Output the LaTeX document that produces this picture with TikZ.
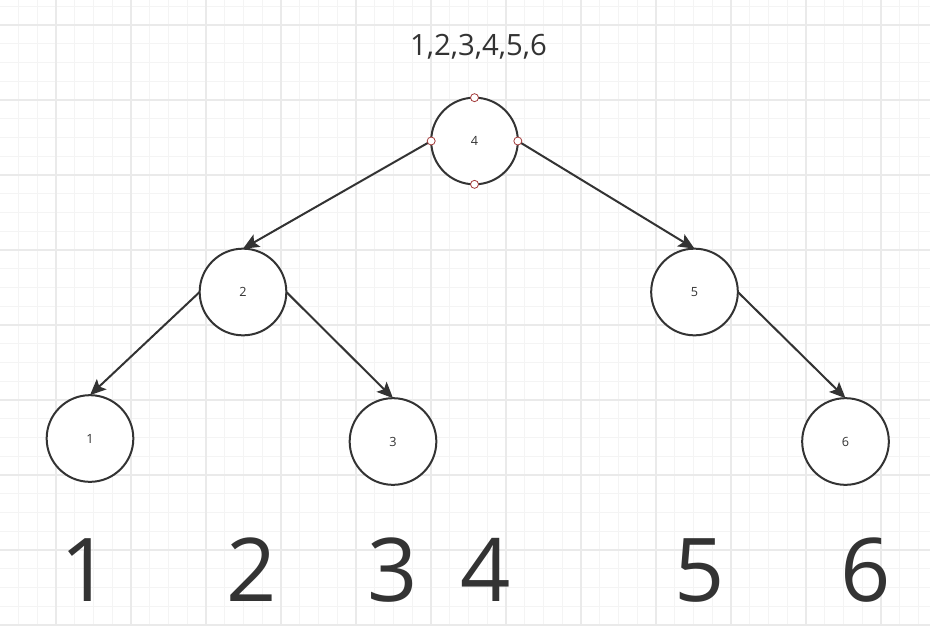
\documentclass[tikz,border=0pt]{standalone}
\usepackage{fontspec}
\setmainfont{Open Sans}
\usetikzlibrary{arrows.meta}
\definecolor{ink}{HTML}{333333}
\definecolor{gridminor}{HTML}{F4F4F4}
\definecolor{gridmajor}{HTML}{EAEAEA}
\definecolor{handlered}{HTML}{A33A3A}
\tikzset{
  treenode/.style={circle, draw=ink, line width=1.5pt, fill=white, minimum size=65pt, inner sep=0pt, outer sep=0pt, text=ink, font=\fontsize{9.5pt}{11pt}\selectfont},
  treeedge/.style={draw=ink, line width=1.5pt, -{Stealth[length=12pt, width=10.5pt, inset=2.5pt]}},
  handle/.style={circle, draw=handlered, fill=white, line width=0.6pt, minimum size=6pt, inner sep=0pt},
  bigdigit/.style={anchor=base, text=ink, font=\fontsize{66pt}{70pt}\selectfont, inner sep=0pt},
  titletext/.style={anchor=base, text=ink, font=\fontsize{22pt}{25pt}\selectfont, inner sep=0pt}
}
\begin{document}
\begin{tikzpicture}[x=0.75pt, y=-0.75pt]
\useasboundingbox (0,0) rectangle (930,625);
\fill[white] (0,0) rectangle (930,625);
% grid
\foreach \gx in {-0.25,18.5,...,931} {\draw[gridminor, line width=0.75pt] (\gx,0) -- (\gx,625);}
\foreach \gy in {6.25,25,...,626} {\draw[gridminor, line width=0.75pt] (0,\gy) -- (930,\gy);}
\foreach \gx in {56,131,...,931} {\draw[gridmajor, line width=0.8pt] (\gx,0) -- (\gx,625);}
\foreach \gy in {25,100,...,626} {\draw[gridmajor, line width=0.8pt] (0,\gy) -- (930,\gy);}

% title
\node[titletext] (title) at (478.5,55) {1,2,3,4,5,6};

% tree nodes
\node[treenode] (n4) at (474.5,141) {4};
\node[treenode] (n2) at (243,292) {2};
\node[treenode] (n5) at (694.5,292) {5};
\node[treenode] (n1) at (90,438.5) {1};
\node[treenode] (n3) at (393,441.5) {3};
\node[treenode] (n6) at (845.5,441.5) {6};

% edges
\draw[treeedge] (n4.west) -- (n2.north);
\draw[treeedge] (n4.east) -- (n5.north);
\draw[treeedge] (n2.west) -- (n1.north);
\draw[treeedge] (n2.east) -- (n3.north);
\draw[treeedge] (n5.east) -- (n6.north);

% selection handles on node 4
\node[handle] (h4n) at (n4.north) {};
\node[handle] (h4s) at (n4.south) {};
\node[handle] (h4w) at (n4.west) {};
\node[handle] (h4e) at (n4.east) {};

% big digits
\node[bigdigit] (d1) at (86,601) {1};
\node[bigdigit] (d2) at (251.7,601) {2};
\node[bigdigit] (d3) at (392.7,601) {3};
\node[bigdigit] (d4) at (486,601) {4};
\node[bigdigit] (d5) at (700,601) {5};
\node[bigdigit] (d6) at (865.7,601) {6};
\end{tikzpicture}
\end{document}
